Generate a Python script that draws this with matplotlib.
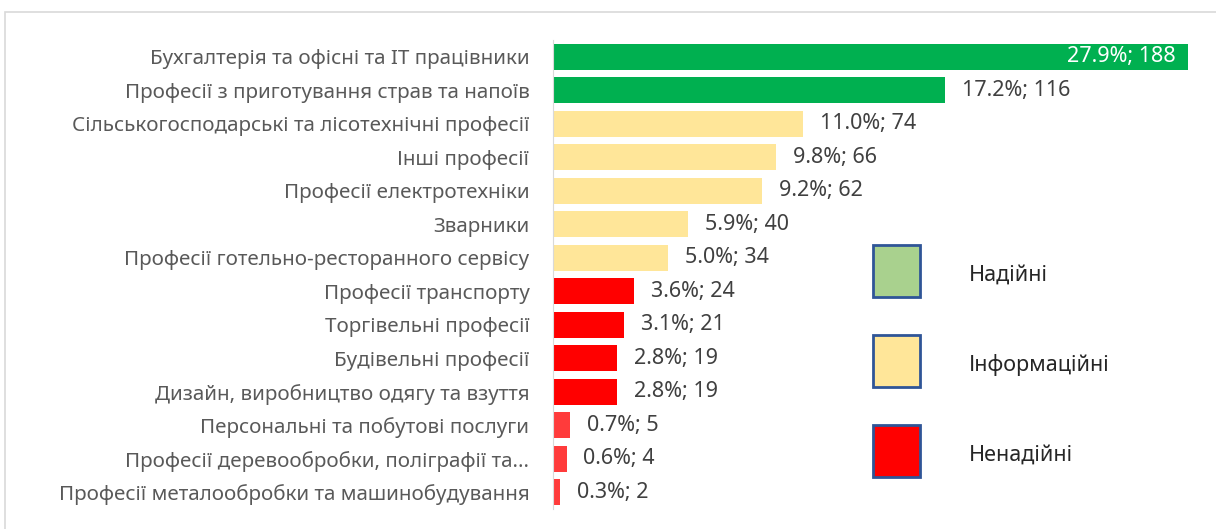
import matplotlib
matplotlib.use("Agg")
import matplotlib.pyplot as plt
from matplotlib.patches import Rectangle

plt.rcParams['font.family'] = ['Noto Sans', 'DejaVu Sans']

professions = [
    "Бухгалтерія та офісні та IT працівники",
    "Професії з приготування страв та напоїв",
    "Сільськогосподарські та лісотехнічні професії",
    "Інші професії",
    "Професії електротехніки",
    "Зварники",
    "Професії готельно-ресторанного сервісу",
    "Професії транспорту",
    "Торгівельні професії",
    "Будівельні професії",
    "Дизайн, виробництво одягу та взуття",
    "Персональні та побутові послуги",
    "Професії деревообробки, поліграфії та...",
    "Професії металообробки та машинобудування",
]
counts = [188, 116, 74, 66, 62, 40, 34, 24, 21, 19, 19, 5, 4, 2]
shares = [27.9, 17.2, 11.0, 9.8, 9.2, 5.9, 5.0, 3.6, 3.1, 2.8, 2.8, 0.7, 0.6, 0.3]
groups = ["r", "r", "i", "i", "i", "i", "i", "u", "u", "u", "u", "u", "u", "u"]

bar_colors = {"r": "#00B050", "i": "#FFE699", "u": "#FF0000"}
legend_names = ["Надійні", "Інформаційні", "Ненадійні"]
legend_colors = ["#A9D18E", "#FFE699", "#FF0000"]

W, H = 1216, 529
fig = plt.figure(figsize=(W / 100, H / 100), dpi=100)

# outer frame
fig.patches.append(Rectangle((5 / W, -0.01), 1.2, 1 - 12 / H + 0.01,
                             transform=fig.transFigure, fill=False,
                             edgecolor="#D9D9D9", linewidth=1.2))

ax = fig.add_axes([553 / W, 1 - 508.75 / H, (1188 - 553) / W, 468.5 / H])
y = list(range(len(counts)))
colors = [bar_colors[g] for g in groups]
# last three small bars look a bit lighter
for i in range(len(colors)):
    if counts[i] < 10:
        colors[i] = "#FF3B3B"
ax.barh(y, counts, height=0.78, color=colors)
ax.set_xlim(0, 188)
ax.set_ylim(len(counts) - 0.5, -0.5)
ax.set_yticks(y)
ax.set_yticklabels(professions, fontsize=14.8, color="#595959")
ax.tick_params(axis="y", length=0, pad=17)
ax.set_xticks([])
for s in ["top", "right", "bottom"]:
    ax.spines[s].set_visible(False)
ax.spines["left"].set_color("#D9D9D9")

for i, (c, p) in enumerate(zip(counts, shares)):
    txt = f"{p:.1f}%; {c}"
    if i == 0:
        ax.text(c - 3.5, i, txt, va="center", ha="right", color="white", fontsize=15.5)
    else:
        ax.text(c + 5, i, txt, va="center", ha="left", color="#404040", fontsize=15.5)

# legend squares
sq_y = [245, 335, 425]
for name, col, top in zip(legend_names, legend_colors, sq_y):
    fig.patches.append(Rectangle((873 / W, 1 - (top + 52) / H), 47 / W, 52 / H,
                                 transform=fig.transFigure, facecolor=col,
                                 edgecolor="#2F5597", linewidth=2))
    fig.text(969 / W, 1 - (top + 30) / H, name, fontsize=15.5, color="#262626",
             va="center", ha="left")

fig.savefig("out.png", dpi=100)
